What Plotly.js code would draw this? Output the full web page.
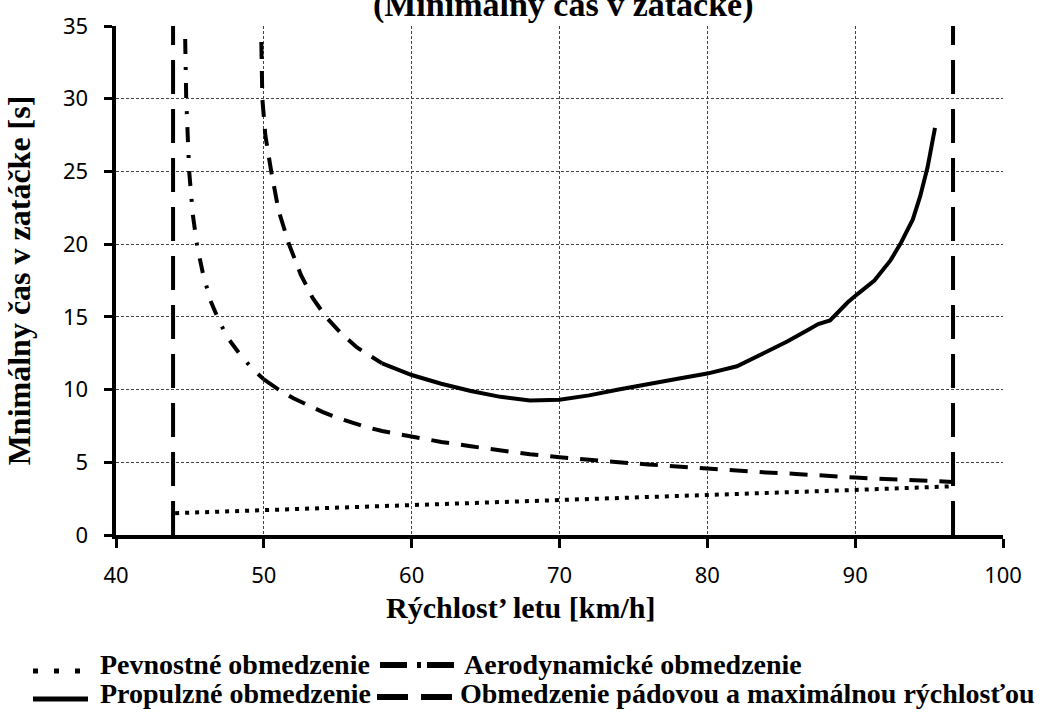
<!DOCTYPE html>
<html>
<head>
<meta charset="utf-8">
<script src="https://cdn.plot.ly/plotly-3.0.1.min.js"></script>
<style>html,body{margin:0;padding:0;background:#fff;}#chart{width:1043px;height:713px;}</style>
</head>
<body>
<div id="chart"></div>
<script>
// ---- data ----
const seriesNames = [
  "Pevnostné obmedzenie",
  "Aerodynamické obmedzenie",
  "Propulzné obmedzenie",
  "Obmedzenie pádovou a maximálnou rýchlosťou"
];
// structural limit (dotted)
const strucX = [44.0, 50, 60, 70, 80, 90, 96.6];
const strucY = [1.5, 1.7, 2.05, 2.4, 2.75, 3.1, 3.35];
// aerodynamic limit, dash-dot part
const aeroX1 = [44.68, 44.75, 44.95, 45.2, 45.5, 45.9, 46.4, 47.0, 47.6, 48.4, 49.2, 50.0];
const aeroY1 = [34.1, 30, 25, 22, 19.8, 17.9, 16.1, 14.65, 13.5, 12.4, 11.45, 10.7];
// aerodynamic limit, dashed part
const aeroX2 = [50, 51, 52, 53, 54, 55, 56, 57, 58, 60, 62, 64, 66, 68, 70, 72, 74, 76, 78, 80, 82, 84, 86, 88, 90, 92, 94, 96.6];
const aeroY2 = [10.7, 10.0, 9.4, 8.9, 8.45, 8.05, 7.7, 7.4, 7.15, 6.75, 6.4, 6.1, 5.8, 5.55, 5.35, 5.15, 5.0, 4.85, 4.7, 4.55, 4.4, 4.3, 4.2, 4.05, 3.95, 3.85, 3.75, 3.65];
// propulsion limit, dashed beginning
const propX1 = [49.83, 49.9, 50.1, 50.5, 51.0, 51.7, 52.5, 53.3, 54.2, 55.2, 56.3, 57.2, 58.0];
const propY1 = [33.9, 30, 27.5, 25, 22.3, 20, 17.9, 16.3, 15.0, 13.9, 12.9, 12.3, 11.8];
// propulsion limit, solid
const propX2 = [58.0, 60, 62, 64, 66, 68, 70, 72, 74, 76, 78, 80, 82, 83.8, 85.4, 86.8, 87.5, 88.3, 88.8, 89.5, 90.2, 91.3, 92.4, 93.1, 93.9, 94.4, 94.9, 95.4];
const propY2 = [11.8, 11.0, 10.4, 9.9, 9.5, 9.25, 9.3, 9.6, 10.0, 10.4, 10.75, 11.1, 11.6, 12.5, 13.3, 14.1, 14.5, 14.75, 15.3, 16.0, 16.6, 17.5, 18.9, 20.1, 21.7, 23.3, 25.3, 28.0];
// stall and max speed limits (vertical)
const speedLimitX = [43.86, 43.86, null, 96.62, 96.62];
const speedLimitY = [0, 35.4, null, 0, 35.4];

const xTicks = [40, 50, 60, 70, 80, 90, 100];
const yTicks = [0, 5, 10, 15, 20, 25, 30, 35];

const titleText = "(Minimálny čas v zatáčke)";
const xTitle = "Rýchlost’ letu [km/h]";
const yTitle = "Mnimálny čas v zatáčke [s]";

// ---- styles ----
const serif = '"Liberation Serif", "Times New Roman", serif';
const sans = '"Noto Sans", "Open Sans", Arial, sans-serif';
const st = {
  struc: {color: "#000", width: 4, dash: "4px,6px"},
  aero1: {color: "#000", width: 4, dash: "15px,13px,3px,13px"},
  aero2: {color: "#000", width: 4, dash: "18px,12px"},
  prop1: {color: "#000", width: 4, dash: "17px,12px"},
  prop2: {color: "#000", width: 4, dash: "solid"},
  speed: {color: "#000", width: 4, dash: "34px,15px"}
};

const traces = [
  {x: strucX, y: strucY, name: seriesNames[0], line: st.struc},
  {x: aeroX1, y: aeroY1, name: seriesNames[1], line: st.aero1},
  {x: aeroX2, y: aeroY2, name: seriesNames[1], line: st.aero2},
  {x: propX1, y: propY1, name: seriesNames[2], line: st.prop1},
  {x: propX2, y: propY2, name: seriesNames[2], line: st.prop2},
  {x: speedLimitX, y: speedLimitY, name: seriesNames[3], line: st.speed}
].map(t => Object.assign({type: "scatter", mode: "lines", showlegend: false, cliponaxis: false, hoverinfo: "x+y+name"}, t));

// ---- custom legend (symbols + labels), positions in pixels converted to paper ----
const L = 116, T = 26, W = 887, H = 509;
const px = v => (v - L) / W;
const py = v => (T + H - v) / H;
const legendItems = [
  {name: seriesNames[0], x0: 33, x1: 82, ys: 671, yt: 664, tx: 98, style: {width: 5, dash: "5px,16px"}},
  {name: seriesNames[1], x0: 380, x1: 454, ys: 665, yt: 664, tx: 462, style: {width: 6, dash: "27px,10px,4px,6px"}},
  {name: seriesNames[2], x0: 33, x1: 88, ys: 699, yt: 693, tx: 98, style: {width: 5, dash: "solid"}},
  {name: seriesNames[3], x0: 377, x1: 453, ys: 697, yt: 693, tx: 458, style: {width: 6, dash: "31px,13px"}}
];
const shapes = legendItems.map(it => ({
  type: "line", xref: "paper", yref: "paper",
  x0: px(it.x0), x1: px(it.x1), y0: py(it.ys), y1: py(it.ys),
  line: {color: "#000", width: it.style.width, dash: it.style.dash}
}));
const annotations = legendItems.map(it => ({
  text: "<b>" + it.name + "</b>", xref: "paper", yref: "paper",
  x: px(it.tx), y: py(it.yt), xanchor: "left", yanchor: "middle",
  showarrow: false, font: {family: serif, size: 28, color: "#000"}
}));
annotations.push({
  text: "<b>" + xTitle + "</b>", xref: "paper", yref: "paper",
  x: px(520), y: py(607), xanchor: "center", yanchor: "middle",
  showarrow: false, font: {family: serif, size: 30, color: "#000"}
});

const layout = {
  width: 1043, height: 713,
  paper_bgcolor: "#fff", plot_bgcolor: "#fff",
  margin: {l: L, r: 1043 - L - W, t: T, b: 713 - T - H, pad: 0},
  showlegend: false,
  title: {
    text: "<b>" + titleText + "</b>",
    font: {family: serif, size: 34, color: "#000"},
    x: 0.54, xref: "container", xanchor: "center",
    y: 0.994, yref: "container", yanchor: "middle"
  },
  xaxis: {
    range: [40, 100], tickvals: xTicks, ticktext: xTicks.map(String),
    showline: true, linecolor: "#000", linewidth: 4,
    ticks: "outside", ticklen: 9, tickwidth: 3, tickcolor: "#000",
    showgrid: true, gridcolor: "#444", gridwidth: 1, griddash: "3px,2px",
    zeroline: false, ticklabelstandoff: 9,
    tickfont: {family: sans, size: 22, color: "#000"}
  },
  yaxis: {
    range: [0, 35], tickvals: yTicks, ticktext: yTicks.map(v => v + "\u00a0\u00a0"),
    showline: true, linecolor: "#000", linewidth: 4,
    ticks: "outside", ticklen: 8, tickwidth: 3, tickcolor: "#000",
    showgrid: true, gridcolor: "#444", gridwidth: 1, griddash: "3px,2px",
    zeroline: false,
    tickfont: {family: sans, size: 22, color: "#000"},
    title: {text: "<b>" + yTitle + "</b>", font: {family: serif, size: 32, color: "#000"}, standoff: 24},
    automargin: false
  },
  shapes: shapes,
  annotations: annotations
};

Plotly.newPlot("chart", traces, layout, {displayModeBar: false, staticPlot: true});
</script>
</body>
</html>
